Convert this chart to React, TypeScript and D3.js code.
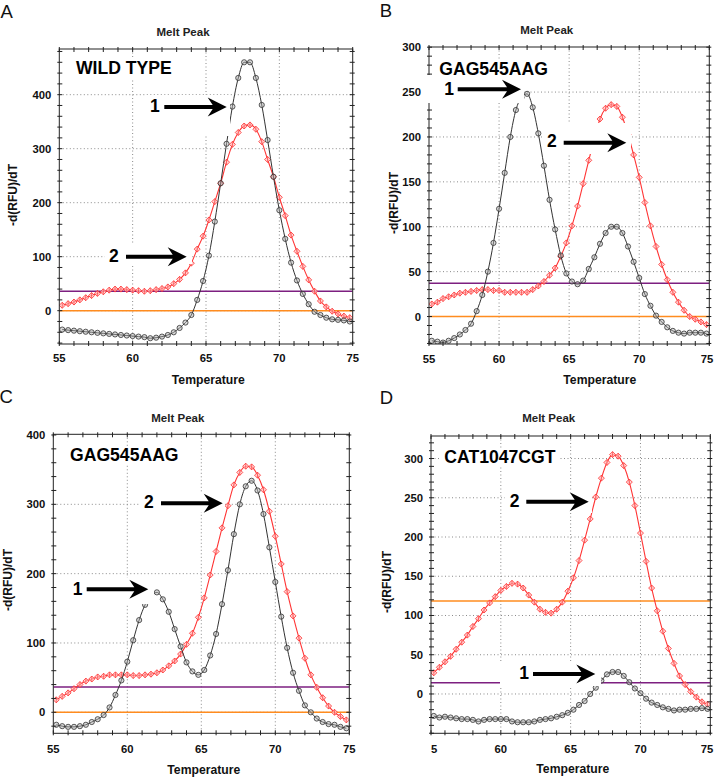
import React from 'react';
import * as d3 from 'd3';

// ---------- data ----------
const TEMPS = [55.2, 55.6, 56.0, 56.4, 56.8, 57.2, 57.6, 58.0, 58.4, 58.8,
  59.2, 59.6, 60.0, 60.4, 60.8, 61.2, 61.6, 62.0, 62.4, 62.8,
  63.2, 63.6, 64.0, 64.4, 64.8, 65.2, 65.6, 66.0, 66.4, 66.8,
  67.2, 67.6, 68.0, 68.4, 68.8, 69.2, 69.6, 70.0, 70.4, 70.8,
  71.2, 71.6, 72.0, 72.4, 72.8, 73.2, 73.6, 74.0, 74.4, 74.8];

const A_BLACK = [-35, -36, -37, -38, -39, -40, -41, -42, -43, -44,
  -45, -46, -47, -48, -49, -51, -50, -48, -45, -40,
  -32, -22, -8, 20, 55, 102, 165, 236, 309, 378,
  431, 460, 460, 431, 381, 316, 248, 186, 133, 89,
  56, 31, 12, -2, -8, -13, -16, -17, -18, -20];
const A_RED = [10, 13, 16, 20, 24, 28, 32, 35, 38, 40,
  40, 39, 38, 37, 36, 37, 39, 41, 44, 50,
  58, 70, 88, 114, 138, 168, 202, 236, 275, 308,
  330, 342, 344, 336, 313, 280, 248, 210, 176, 140,
  110, 82, 57, 36, 18, 7, -1, -6, -10, -13];

const B_BLACK = [-27, -28, -29, -27, -24, -20, -15, -8, 6, 24,
  50, 82, 120, 160, 200, 230, 244, 248, 233, 204,
  168, 130, 97, 68, 48, 39, 36, 40, 53, 66,
  81, 93, 100, 100, 93, 78, 61, 43, 25, 12,
  1, -6, -12, -16, -18, -19, -18, -18, -18, -19];
const B_RED = [14, 16, 20, 22, 24, 26, 27, 28, 29, 30,
  30, 29, 29, 27, 27, 27, 27, 27, 30, 34,
  39, 46, 54, 67, 82, 101, 123, 148, 174, 198,
  220, 232, 236, 234, 222, 203, 180, 155, 127, 101,
  78, 58, 41, 27, 16, 7, 0, -3, -6, -9];

const C_BLACK = [-18, -20, -21, -21, -20, -18, -14, -10, -4, 7,
  25, 46, 73, 104, 133, 155, 168, 173, 163, 145,
  120, 95, 72, 59, 54, 61, 82, 113, 156, 205,
  257, 300, 326, 334, 320, 286, 238, 188, 138, 93,
  57, 31, 10, 0, -9, -14, -17, -18, -21, -23];
const C_RED = [18, 23, 28, 34, 40, 45, 48, 51, 52, 54,
  54, 54, 54, 53, 53, 54, 55, 57, 61, 67,
  74, 84, 98, 114, 137, 165, 198, 232, 266, 298,
  328, 346, 355, 354, 342, 321, 290, 254, 214, 174,
  139, 107, 78, 54, 36, 21, 9, 0, -6, -11];

const D_BLACK = [-28, -30, -29, -30, -31, -32, -32, -33, -35, -33,
  -32, -32, -32, -32, -35, -36, -36, -36, -35, -33,
  -32, -31, -29, -27, -24, -20, -14, -9, 0, 8,
  17, 25, 28, 28, 23, 15, 7, 1, -6, -11,
  -14, -17, -19, -21, -20, -20, -19, -19, -18, -19];
const D_RED = [27, 34, 41, 48, 57, 66, 75, 86, 96, 107,
  116, 124, 132, 137, 141, 140, 135, 126, 117, 108,
  104, 103, 108, 117, 131, 148, 170, 196, 223, 251,
  275, 295, 305, 303, 291, 270, 240, 205, 169, 135,
  106, 80, 58, 39, 23, 12, 3, -4, -10, -13];

const X_TICKS = [55, 60, 65, 70, 75];
const X_TICK_LABELS = ['55', '60', '65', '70', '75'];
const D_X_TICK_LABELS = ['5', '60', '65', '70', '75'];
const A_Y_TICKS = [0, 100, 200, 300, 400];
const B_Y_TICKS = [0, 50, 100, 150, 200, 250, 300];
const C_Y_TICKS = [0, 100, 200, 300, 400];
const D_Y_TICKS = [0, 50, 100, 150, 200, 250, 300];

const A_THRESH = { purple: 36, orange: 0 };
const B_THRESH = { purple: 37, orange: 0 };
const C_THRESH = { purple: 36.5, orange: 0 };
const D_THRESH = { purple: 14.4, orange: 118.5 };

const TITLE = 'Melt Peak';
const X_LABEL = 'Temperature';
const Y_LABEL = '-d(RFU)/dT';

// ---------- layout ----------
const FONT = '"Liberation Sans", Arial, Helvetica, sans-serif';

type Arrow = { label: string; lx: number; ly: number; x0: number; tip: number; y: number };
type Cfg = {
  letter: string; letterX: number; letterY: number;
  x0: number; x1: number; yTop: number; yBot: number; yDomain: [number, number];
  yTicks: number[]; yMinor: number; xLabels: string[]; firstStart?: boolean;
  black: number[]; red: number[]; thresh: { purple: number; orange: number };
  titleX: number; titleY: number; xlabX: number; xlabY: number; xtickY: number;
  ylabX: number; ylabY: number;
  tag: string; tagX: number; tagY: number;
  arrows: Arrow[]; boxes: [number, number, number, number][];
};

const PANELS: Cfg[] = [
  {
    letter: 'A', letterX: 0.5, letterY: 18.3,
    x0: 59.3, x1: 352.7, yTop: 49, yBot: 344, yDomain: [-61.7, 484.6],
    yTicks: A_Y_TICKS, yMinor: 20, xLabels: X_TICK_LABELS,
    black: A_BLACK, red: A_RED, thresh: A_THRESH,
    titleX: 183, titleY: 35.7, xlabX: 208.3, xlabY: 384, xtickY: 361.7,
    ylabX: 13.3, ylabY: 195,
    tag: 'WILD TYPE', tagX: 76, tagY: 74,
    arrows: [
      { label: '1', lx: 150, ly: 112, x0: 164.3, tip: 226.7, y: 107 },
      { label: '2', lx: 109, ly: 261.7, x0: 126, tip: 186.7, y: 256.7 },
    ],
    boxes: [[73, 58, 176, 79], [146, 95, 230, 136], [105, 244, 192, 264]],
  },
  {
    letter: 'B', letterX: 379.7, letterY: 17.3,
    x0: 429, x1: 709.3, yTop: 47, yBot: 344, yDomain: [-30.6, 300.2],
    yTicks: B_Y_TICKS, yMinor: 10, xLabels: X_TICK_LABELS,
    black: B_BLACK, red: B_RED, thresh: B_THRESH,
    titleX: 546.7, titleY: 34, xlabX: 599.8, xlabY: 384, xtickY: 362.7,
    ylabX: 394.3, ylabY: 203,
    tag: 'GAG545AAG', tagX: 439.3, tagY: 75,
    arrows: [
      { label: '1', lx: 444.3, ly: 95, x0: 457.7, tip: 521, y: 89.3 },
      { label: '2', lx: 547, ly: 147.3, x0: 563.7, tip: 626.3, y: 142.7 },
    ],
    boxes: [[437, 60, 552, 75], [424, 75, 524, 103], [544, 123, 631, 154]],
  },
  {
    letter: 'C', letterX: -0.5, letterY: 403.3,
    x0: 53.3, x1: 349.3, yTop: 434.3, yBot: 733.3, yDomain: [-30.3, 401],
    yTicks: C_Y_TICKS, yMinor: 20, xLabels: X_TICK_LABELS,
    black: C_BLACK, red: C_RED, thresh: C_THRESH,
    titleX: 177.8, titleY: 421.7, xlabX: 203.8, xlabY: 774, xtickY: 752.7,
    ylabX: 7.5, ylabY: 580,
    tag: 'GAG545AAG', tagX: 70, tagY: 460.7,
    arrows: [
      { label: '1', lx: 72.7, ly: 595, x0: 86.7, tip: 148.3, y: 589.3 },
      { label: '2', lx: 144, ly: 508.3, x0: 161, tip: 222.7, y: 503.3 },
    ],
    boxes: [[67, 446, 183, 465], [70, 578, 154, 604], [140, 492, 225, 512]],
  },
  {
    letter: 'D', letterX: 379.7, letterY: 404,
    x0: 431, x1: 710.3, yTop: 436, yBot: 733.3, yDomain: [-50.1, 328.7],
    yTicks: D_Y_TICKS, yMinor: 10, xLabels: D_X_TICK_LABELS, firstStart: true,
    black: D_BLACK, red: D_RED, thresh: D_THRESH,
    titleX: 548.7, titleY: 422.3, xlabX: 572.8, xlabY: 773.3, xtickY: 752.7,
    ylabX: 387, ylabY: 582,
    tag: 'CAT1047CGT', tagX: 444.3, tagY: 462.7,
    arrows: [
      { label: '1', lx: 519.3, ly: 679.3, x0: 533, tip: 595.3, y: 674 },
      { label: '2', lx: 509.7, ly: 506.7, x0: 526.3, tip: 588.7, y: 501.7 },
    ],
    boxes: [[441, 448, 559, 467], [500, 662, 601, 686], [505, 490, 592, 513]],
  },
];

function arrowPath(x0: number, tip: number, y: number) {
  const hl = 19, hh = 9.5, notch = 5, t = 2;
  return `M${x0},${y - t}L${tip - hl + notch},${y - t}L${tip - hl},${y - hh}L${tip},${y}` +
    `L${tip - hl},${y + hh}L${tip - hl + notch},${y + t}L${x0},${y + t}Z`;
}

function Panel({ c, idx }: { c: Cfg; idx: number }) {
  const x = d3.scaleLinear().domain([55, 75]).range([c.x0, c.x1]);
  const y = d3.scaleLinear().domain(c.yDomain).range([c.yBot, c.yTop]);
  const line = d3.line<number>()
    .x((_, i) => x(TEMPS[i]))
    .y((d) => y(d))
    .curve(d3.curveMonotoneX);
  const xMinor = d3.range(55, 75.01, 1);
  const [ymin, ymax] = c.yDomain;
  const yMinor = d3.range(Math.ceil(ymin / c.yMinor) * c.yMinor, ymax + 0.01, c.yMinor);
  const clipId = `clip${idx}`;
  const tIn = 3, tOut = 2;
  return (
    <g>
      <defs>
        <clipPath id={clipId}>
          <rect x={c.x0} y={c.yTop} width={c.x1 - c.x0} height={c.yBot - c.yTop} />
        </clipPath>
      </defs>
      <text x={c.letterX} y={c.letterY} fontSize={18.5} fontFamily={FONT} fill="#111">{c.letter}</text>
      <text x={c.titleX} y={c.titleY} fontSize={11.5} fontWeight="bold" fontFamily={FONT} textAnchor="middle" fill="#222">{TITLE}</text>
      <rect x={c.x0} y={c.yTop} width={c.x1 - c.x0} height={c.yBot - c.yTop} fill="#fff" />
      {/* grid */}
      <g stroke="#8a8a8a" strokeWidth={1} strokeDasharray="1,2.5">
        {X_TICKS.filter((t) => t > 55 && t < 75).map((t) => (
          <line key={'gx' + t} x1={x(t)} x2={x(t)} y1={c.yTop} y2={c.yBot} />
        ))}
        {c.yTicks.filter((t) => y(t) > c.yTop + 1 && y(t) < c.yBot - 1).map((t) => (
          <line key={'gy' + t} x1={c.x0} x2={c.x1} y1={y(t)} y2={y(t)} />
        ))}
      </g>
      <g clipPath={`url(#${clipId})`}>
        <line x1={c.x0} x2={c.x1} y1={y(c.thresh.orange)} y2={y(c.thresh.orange)} stroke="#ff8c1f" strokeWidth={1.6} />
        <line x1={c.x0} x2={c.x1} y1={y(c.thresh.purple)} y2={y(c.thresh.purple)} stroke="#7d1f80" strokeWidth={1.6} />
        <path d={line(c.red) || ''} fill="none" stroke="#ff3535" strokeWidth={1.1} />
        {c.red.map((v, i) => {
          const px = x(TEMPS[i]), py = y(v), s = 3;
          return (
            <g key={'r' + i}>
              <path d={`M${px},${py - s}L${px + s},${py}L${px},${py + s}L${px - s},${py}Z`} fill="#ffc4c4" fillOpacity={0.7} stroke="#ff2e2e" strokeWidth={0.8} />
              <line x1={px} x2={px} y1={py - s} y2={py + s} stroke="#ff2e2e" strokeWidth={0.6} />
            </g>
          );
        })}
        <path d={line(c.black) || ''} fill="none" stroke="#333" strokeWidth={1} />
        {c.black.map((v, i) => (
          <circle key={'b' + i} cx={x(TEMPS[i])} cy={y(v)} r={2.6} fill="#aaa" fillOpacity={0.45} stroke="#333" strokeWidth={0.8} />
        ))}
      </g>
      {/* frame and ticks */}
      <rect x={c.x0} y={c.yTop} width={c.x1 - c.x0} height={c.yBot - c.yTop} fill="none" stroke="#222" strokeWidth={1} />
      <g stroke="#222" strokeWidth={1}>
        {xMinor.map((t) => (
          <g key={'tx' + t}>
            <line x1={x(t)} x2={x(t)} y1={c.yBot - tIn} y2={c.yBot + tOut} />
            <line x1={x(t)} x2={x(t)} y1={c.yTop - tOut} y2={c.yTop + tIn} />
          </g>
        ))}
        {yMinor.map((t) => (
          <g key={'ty' + t}>
            <line x1={c.x0 - tOut} x2={c.x0 + tIn} y1={y(t)} y2={y(t)} />
            <line x1={c.x1 - tIn} x2={c.x1 + tOut} y1={y(t)} y2={y(t)} />
          </g>
        ))}
      </g>
      {/* white boxes behind annotations */}
      {c.boxes.map((b, i) => (
        <rect key={'bx' + i} x={b[0]} y={b[1]} width={b[2] - b[0]} height={b[3] - b[1]} fill="#fff" />
      ))}
      <text x={c.tagX} y={c.tagY} fontSize={17.6} fontWeight="bold" fontFamily={FONT} fill="#000">{c.tag}</text>
      {c.arrows.map((a, i) => (
        <g key={'a' + i}>
          <text x={a.lx} y={a.ly} fontSize={17.5} fontWeight="bold" fontFamily={FONT} fill="#000">{a.label}</text>
          <path d={arrowPath(a.x0, a.tip, a.y)} fill="#000" />
        </g>
      ))}
      {/* tick labels */}
      <g fontSize={11.3} fontWeight="bold" fontFamily={FONT} fill="#111">
        {X_TICKS.map((t, i) => (
          <text key={'lx' + t} x={Math.min(x(t), 707)} y={c.xtickY} textAnchor={c.firstStart && i === 0 ? 'start' : 'middle'}>{c.xLabels[i]}</text>
        ))}
        {c.yTicks.map((t) => (
          <text key={'ly' + t} x={c.x0 - 8} y={y(t) + 4} textAnchor="end">{t}</text>
        ))}
      </g>
      <text x={c.xlabX} y={c.xlabY} fontSize={12.2} fontWeight="bold" fontFamily={FONT} textAnchor="middle" fill="#111">{X_LABEL}</text>
      <text transform={`translate(${c.ylabX + 4},${c.ylabY}) rotate(-90)`} fontSize={12} fontWeight="bold" fontFamily={FONT} textAnchor="middle" fill="#111">{Y_LABEL}</text>
    </g>
  );
}

export default function App() {
  return (
    <svg width={714} height={777} viewBox="0 0 714 777" style={{ position: 'absolute', left: 0, top: 0, background: '#fff' }}>
      <rect width={714} height={777} fill="#fff" />
      {PANELS.map((c, i) => (
        <Panel key={c.letter} c={c} idx={i} />
      ))}
    </svg>
  );
}
